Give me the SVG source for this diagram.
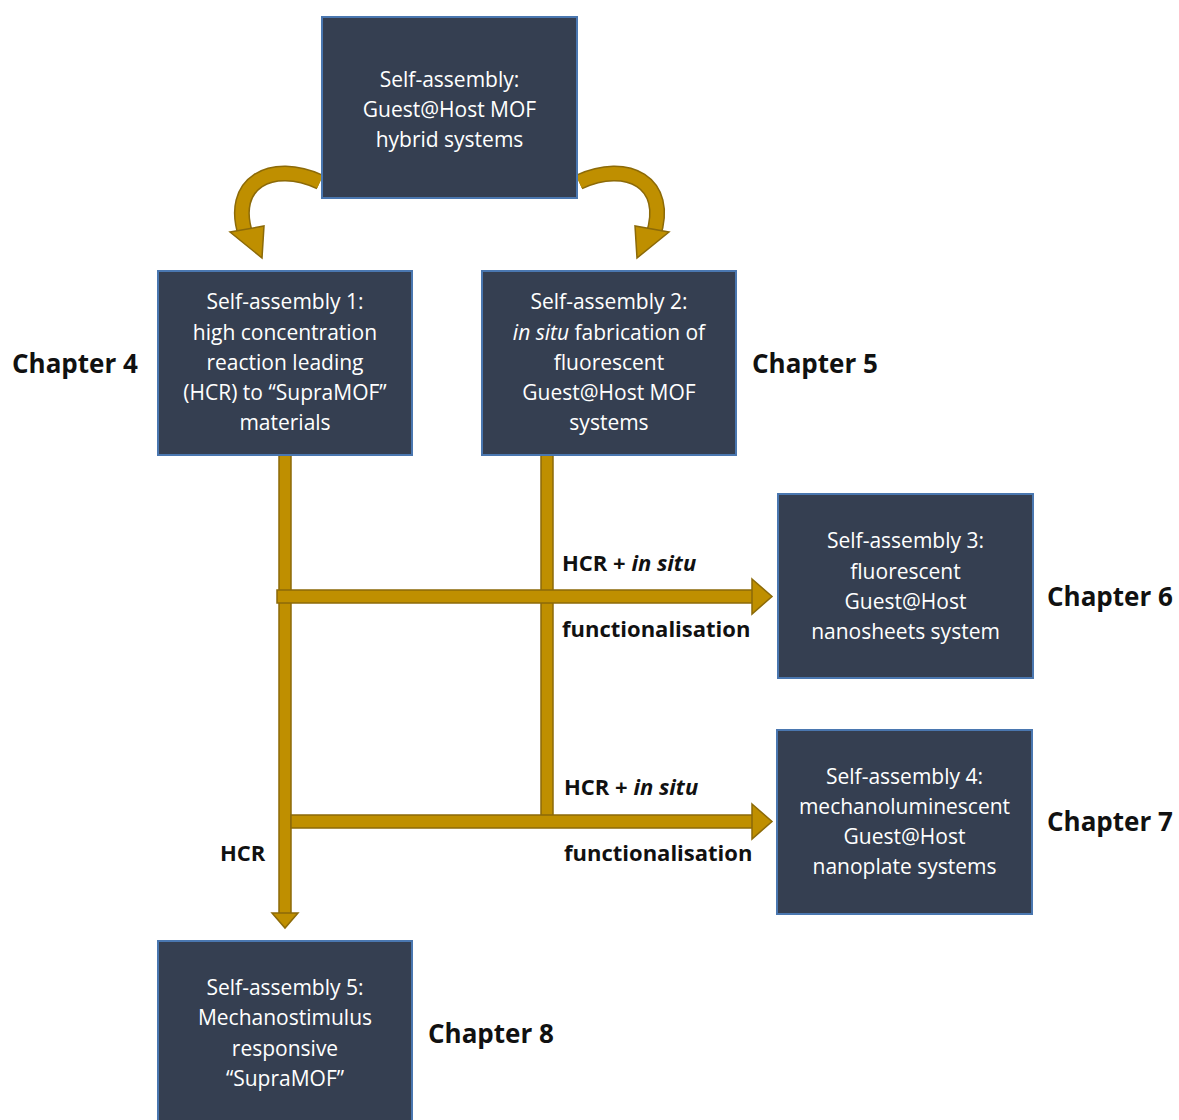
<svg xmlns="http://www.w3.org/2000/svg" width="1179" height="1120" viewBox="0 0 1179 1120">
<style>
.box{fill:#353f51;stroke:#4a77b0;stroke-width:2}
.bt{font-family:"Open Sans","Liberation Sans",Arial,sans-serif;font-size:21px;fill:#ffffff;text-anchor:middle}
.ch{font-family:"Open Sans","Liberation Sans",Arial,sans-serif;font-size:26px;font-weight:bold;fill:#111}
.lb{font-family:"Open Sans","Liberation Sans",Arial,sans-serif;font-size:22px;font-weight:bold;fill:#111}
.ar{fill:#bf8f00;stroke:#8c6a08;stroke-width:1.5}
.cv{fill:none;stroke:#bf8f00;stroke-width:13}
.cvo{fill:none;stroke:#8c6a08;stroke-width:16}
</style>
<rect width="1179" height="1120" fill="#ffffff"/>
<g id="connectors">
  <path class="cvo" d="M320 182 C272 160,228 182,246 236"/>
  <path class="cv" d="M320 182 C272 160,228 182,246 236"/>
  <polygon class="ar" points="230,232 264,226 262,258"/>
  <path class="cvo" d="M579 182 C627 160,671 182,653 236"/>
  <path class="cv" d="M579 182 C627 160,671 182,653 236"/>
  <polygon class="ar" points="669,232 635,226 637,258"/>
  <rect class="ar" x="279" y="455" width="12" height="460"/>
  <polygon class="ar" points="272,913 298,913 285,928"/>
  <rect class="ar" x="541" y="455" width="12" height="361"/>
  <rect class="ar" x="277" y="590" width="478" height="13"/>
  <polygon class="ar" points="752,579 772,596.5 752,614"/>
  <rect class="ar" x="291" y="815" width="464" height="13"/>
  <polygon class="ar" points="752,804 772,821.5 752,839"/>
  <text class="lb" x="562" y="571">HCR + <tspan font-style="italic">in situ</tspan></text>
  <text class="lb" x="562" y="637">functionalisation</text>
  <text class="lb" x="564" y="795">HCR + <tspan font-style="italic">in situ</tspan></text>
  <text class="lb" x="564" y="861">functionalisation</text>
  <text class="lb" x="220" y="861">HCR</text>
</g>
<g id="top">
  <rect class="box" x="322" y="17" width="255" height="181"/>
  <text class="bt" x="449.5" y="87">Self-assembly:</text>
  <text class="bt" x="449.5" y="117">Guest@Host MOF</text>
  <text class="bt" x="449.5" y="147">hybrid systems</text>
</g>
<g id="sa1">
  <rect class="box" x="158" y="271" width="254" height="184"/>
  <text class="bt" x="285" y="309">Self-assembly 1:</text>
  <text class="bt" x="285" y="340">high concentration</text>
  <text class="bt" x="285" y="370">reaction leading</text>
  <text class="bt" x="285" y="400">(HCR) to “SupraMOF”</text>
  <text class="bt" x="285" y="430">materials</text>
</g>
<g id="sa2">
  <rect class="box" x="482" y="271" width="254" height="184"/>
  <text class="bt" x="609" y="309">Self-assembly 2:</text>
  <text class="bt" x="609" y="340"><tspan font-style="italic">in situ</tspan> fabrication of</text>
  <text class="bt" x="609" y="370">fluorescent</text>
  <text class="bt" x="609" y="400">Guest@Host MOF</text>
  <text class="bt" x="609" y="430">systems</text>
</g>
<g id="sa3">
  <rect class="box" x="778" y="494" width="255" height="184"/>
  <text class="bt" x="905.5" y="548">Self-assembly 3:</text>
  <text class="bt" x="905.5" y="579">fluorescent</text>
  <text class="bt" x="905.5" y="609">Guest@Host</text>
  <text class="bt" x="905.5" y="639">nanosheets system</text>
</g>
<g id="sa4">
  <rect class="box" x="777" y="730" width="255" height="184"/>
  <text class="bt" x="904.5" y="784">Self-assembly 4:</text>
  <text class="bt" x="904.5" y="814">mechanoluminescent</text>
  <text class="bt" x="904.5" y="844">Guest@Host</text>
  <text class="bt" x="904.5" y="874">nanoplate systems</text>
</g>
<g id="sa5">
  <rect class="box" x="158" y="941" width="254" height="184"/>
  <text class="bt" x="285" y="995">Self-assembly 5:</text>
  <text class="bt" x="285" y="1025">Mechanostimulus</text>
  <text class="bt" x="285" y="1056">responsive</text>
  <text class="bt" x="285" y="1086">“SupraMOF”</text>
</g>
<g id="chapters">
  <text class="ch" x="12" y="373">Chapter 4</text>
  <text class="ch" x="752" y="373">Chapter 5</text>
  <text class="ch" x="1047" y="606">Chapter 6</text>
  <text class="ch" x="1047" y="831">Chapter 7</text>
  <text class="ch" x="428" y="1043">Chapter 8</text>
</g>
</svg>
